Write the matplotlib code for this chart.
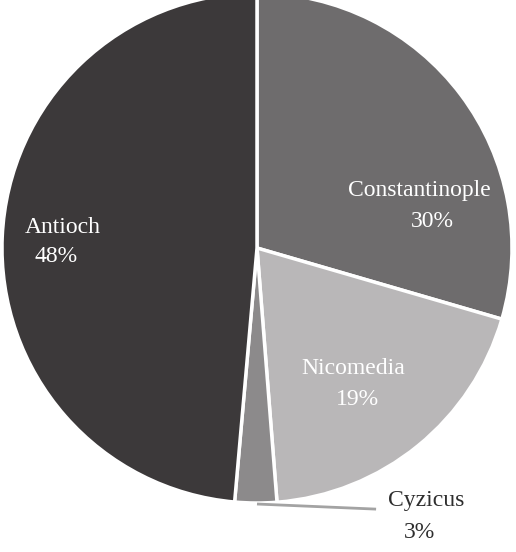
import matplotlib
matplotlib.use("Agg")
import matplotlib.pyplot as plt

# slice data (clockwise from 12 o'clock)
cities = ["Constantinople", "Nicomedia", "Cyzicus", "Antioch"]
shares = [29.5, 19.25, 2.65, 48.6]          # wedge sizes
pct_labels = ["30%", "19%", "3%", "48%"]    # printed labels
colors = ["#6e6c6d", "#b9b7b8", "#8c8a8b", "#3c393a"]

# label placement (name position, percent position, text colour)
name_pos = [(0.635, 0.227), (0.376, -0.471), (0.663, -0.992), (-0.761, 0.082)]
pct_pos = [(0.686, 0.102), (0.396, -0.596), (0.639, -1.114), (-0.788, -0.035)]
text_colors = ["white", "white", "#2e2e2e", "white"]

W, H = 516, 552
R_PX = 255.0
CX, CY = 257.0, 248.0

plt.rcParams['font.family'] = ['Liberation Serif', 'DejaVu Serif']

fig = plt.figure(figsize=(W / 100, H / 100), dpi=100)
ax = fig.add_axes([0, 0, 1, 1])

ax.pie(shares, colors=colors, startangle=90, counterclock=False, radius=1.0,
       wedgeprops=dict(edgecolor="white", linewidth=2.5))

for i, city in enumerate(cities):
    ax.text(*name_pos[i], city, color=text_colors[i], fontsize=17,
            ha="center", va="center")
    ax.text(*pct_pos[i], pct_labels[i], color=text_colors[i], fontsize=17,
            ha="center", va="center")

# leader line for the small slice
ax.plot([0.0, 0.467], [-1.004, -1.024], color="#a3a3a3", lw=2, solid_capstyle="butt")

ax.set_xlim(-CX / R_PX, (W - CX) / R_PX)
ax.set_ylim(-(H - CY) / R_PX, CY / R_PX)
ax.set_aspect("auto")
ax.axis("off")

fig.savefig("out.png", dpi=100)
